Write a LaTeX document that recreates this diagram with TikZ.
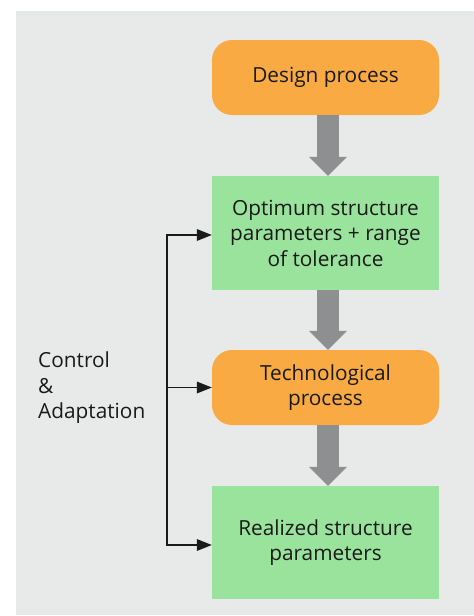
\documentclass[tikz,border=0pt]{standalone}
\usepackage{fontspec}
\setmainfont{Open Sans}
\usetikzlibrary{arrows.meta}
\definecolor{bgc}{RGB}{232,234,233}
\definecolor{orangec}{RGB}{249,170,67}
\definecolor{greenc}{RGB}{154,227,157}
\definecolor{arrowc}{RGB}{142,143,144}
\definecolor{textc}{RGB}{26,26,26}
\begin{document}
\begin{tikzpicture}[x=1pt,y=-1pt,
 every node/.style={font=\fontsize{20.8}{25.5}\selectfont, text=textc},
 procbox/.style={fill=orangec, rounded corners=20pt, minimum width=227pt, minimum height=75pt, align=center, inner sep=0pt},
 parbox/.style={fill=greenc, minimum width=227pt, minimum height=114pt, align=center, inner sep=0pt},
 bigarrow/.style={draw=arrowc, line width=22pt, -{Triangle[length=19pt,width=38pt,line width=0pt]}},
 ctrl/.style={draw=textc, line width=1.8pt},
 ctrlarrow/.style={ctrl, -{Triangle[length=15pt,width=12pt,line width=0pt]}}
]
\useasboundingbox (0,0) rectangle (474,616);
\fill[bgc] (16,11) rectangle (474,615);
\node[procbox] (design) at (325.5,77.5) {Design process};
\node[parbox] (opt) at (325.5,233) {\rule{0pt}{7pt}Optimum structure\\parameters + range\\of tolerance};
\node[procbox] (tech) at (325.5,387.5) {Technological\\process};
\node[parbox, minimum height=113pt] (real) at (325.5,542.5) {Realized structure\\parameters};
\draw[bigarrow] ([xshift=2.5pt]design.south) -- ([xshift=2.5pt]opt.north);
\draw[bigarrow] ([xshift=2.5pt]opt.south) -- ([xshift=2.5pt]tech.north);
\draw[bigarrow] ([xshift=2.5pt]tech.south) -- ([xshift=2.5pt]real.north);
\coordinate (s1) at (167,235);
\coordinate (s3) at (167,545);
\draw[ctrl] (s1) -- (s3);
\draw[ctrlarrow] ([xshift=-0.9pt]s1) -- (s1 -| opt.west);
\draw[ctrlarrow] (tech.west -| s1) -- (tech.west);
\draw[ctrlarrow] ([xshift=-0.9pt]s3) -- (s3 -| real.west);
\node[anchor=west, align=left, inner sep=0pt] (label) at (38,388) {Control\\\&\\Adaptation};
\end{tikzpicture}
\end{document}
